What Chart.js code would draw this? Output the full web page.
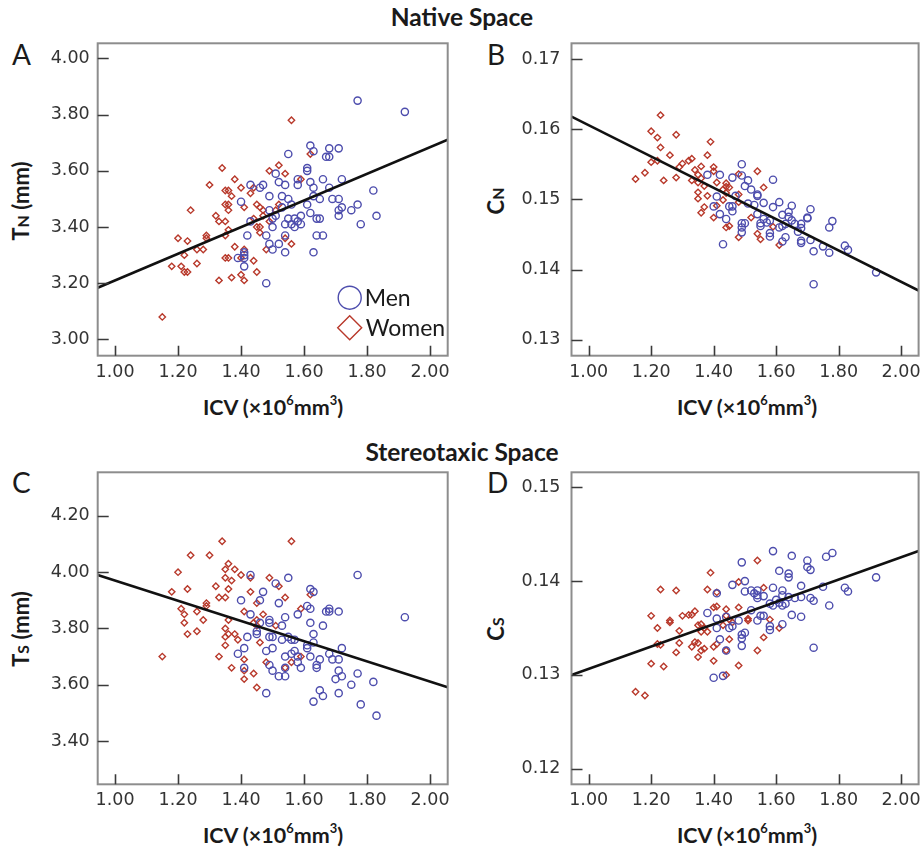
<!DOCTYPE html>
<html>
<head>
<meta charset="utf-8">
<script src="https://cdn.jsdelivr.net/npm/chart.js@4.4.1/dist/chart.umd.min.js"></script>
<style>
  body { margin: 0; background: #fff; }
  #wrap { position: relative; width: 924px; height: 850px; font-family: Lato, 'Open Sans', sans-serif; color: #1a1a1a; }
  canvas { position: absolute; }
  .sect { position: absolute; left: 0; width: 924px; text-align: center; font-size: 24.5px; font-weight: 700; line-height: 26px; }
  .letter { position: absolute; font-size: 28px; line-height: 28px; }
  .xt { position: absolute; width: 300px; text-align: center; font-size: 21.5px; font-weight: 700; line-height: 24px; }
  .yt { position: absolute; width: 200px; text-align: center; font-size: 22px; font-weight: 700; line-height: 24px; transform: rotate(-90deg); }
  sup { font-size: 0.6em; vertical-align: 0.75em; line-height: 0; }
  .sub { font-size: 0.72em; }
</style>
</head>
<body>
<div id="wrap">
  <div class="sect" style="top:4px">Native Space</div>
  <div class="sect" style="top:439px">Stereotaxic Space</div>

  <div class="letter" style="left:12px;top:40px">A</div>
  <div class="letter" style="left:487px;top:40px">B</div>
  <div class="letter" style="left:12px;top:468px">C</div>
  <div class="letter" style="left:487px;top:468px">D</div>

  <div class="yt" style="left:-78px;top:188px">T<span class="sub">N</span> (mm)</div>
  <div class="yt" style="left:397px;top:188px">C<span class="sub">N</span></div>
  <div class="yt" style="left:-78px;top:616px">T<span class="sub">S</span> (mm)</div>
  <div class="yt" style="left:397px;top:616px">C<span class="sub">S</span></div>

  <div class="xt" style="left:123px;top:395px">ICV (×10<sup>6</sup>mm<sup>3</sup>)</div>
  <div class="xt" style="left:597px;top:395px">ICV (×10<sup>6</sup>mm<sup>3</sup>)</div>
  <div class="xt" style="left:123px;top:823px">ICV (×10<sup>6</sup>mm<sup>3</sup>)</div>
  <div class="xt" style="left:597px;top:823px">ICV (×10<sup>6</sup>mm<sup>3</sup>)</div>

  <canvas id="chartA" width="460" height="370" style="left:0;top:30px"></canvas>
  <canvas id="chartB" width="462" height="370" style="left:462px;top:30px"></canvas>
  <canvas id="chartC" width="460" height="370" style="left:0;top:460px"></canvas>
  <canvas id="chartD" width="462" height="370" style="left:462px;top:460px"></canvas>
</div>

<script>
// ---------------- data ------------------------
const groups = ['Men', 'Women'];
const xTicks = [1.00, 1.20, 1.40, 1.60, 1.80, 2.00];
const yTicksA = [3.00, 3.20, 3.40, 3.60, 3.80, 4.00];
const yTicksB = [0.13, 0.14, 0.15, 0.16, 0.17];
const yTicksC = [3.40, 3.60, 3.80, 4.00, 4.20];
const yTicksD = [0.12, 0.13, 0.14, 0.15];

// A: native thickness
const menA = [
  [1.77,3.85],[1.92,3.81],[1.62,3.69],[1.63,3.67],[1.68,3.68],[1.71,3.68],[1.55,3.66],[1.67,3.65],
  [1.68,3.65],[1.61,3.61],[1.61,3.60],[1.51,3.59],[1.58,3.57],[1.58,3.55],[1.52,3.56],[1.54,3.55],
  [1.62,3.56],[1.66,3.57],[1.72,3.57],[1.43,3.55],[1.47,3.55],[1.46,3.54],[1.63,3.54],[1.68,3.54],
  [1.82,3.53],[1.49,3.51],[1.53,3.51],[1.55,3.50],[1.63,3.51],[1.40,3.49],[1.56,3.48],[1.61,3.48],
  [1.65,3.50],[1.69,3.50],[1.71,3.50],[1.72,3.47],[1.71,3.46],[1.77,3.48],[1.75,3.46],[1.49,3.46],
  [1.53,3.47],[1.51,3.44],[1.50,3.43],[1.43,3.42],[1.55,3.43],[1.57,3.43],[1.59,3.44],[1.58,3.42],
  [1.59,3.41],[1.56,3.41],[1.57,3.40],[1.62,3.45],[1.64,3.43],[1.65,3.43],[1.71,3.44],[1.83,3.44],
  [1.78,3.41],[1.54,3.41],[1.50,3.40],[1.42,3.37],[1.48,3.37],[1.54,3.37],[1.64,3.37],[1.66,3.37],
  [1.49,3.34],[1.52,3.34],[1.50,3.32],[1.54,3.31],[1.63,3.31],[1.41,3.31],[1.41,3.30],[1.39,3.29],
  [1.41,3.29],[1.41,3.26],[1.48,3.20]
];
const womenA = [
  [1.56,3.78],[1.62,3.66],[1.52,3.62],[1.34,3.61],[1.49,3.60],[1.54,3.59],[1.38,3.57],[1.59,3.57],
  [1.30,3.55],[1.40,3.54],[1.44,3.54],[1.35,3.53],[1.36,3.53],[1.37,3.51],[1.43,3.52],[1.35,3.48],
  [1.36,3.48],[1.36,3.46],[1.41,3.47],[1.45,3.48],[1.46,3.47],[1.47,3.46],[1.52,3.48],[1.51,3.46],
  [1.24,3.46],[1.32,3.44],[1.33,3.42],[1.35,3.42],[1.44,3.43],[1.47,3.44],[1.49,3.42],[1.36,3.39],
  [1.35,3.37],[1.45,3.40],[1.46,3.40],[1.46,3.38],[1.29,3.37],[1.29,3.36],[1.20,3.36],[1.23,3.35],
  [1.54,3.36],[1.56,3.34],[1.26,3.32],[1.28,3.32],[1.38,3.33],[1.48,3.32],[1.22,3.30],[1.35,3.29],
  [1.36,3.29],[1.41,3.32],[1.40,3.29],[1.44,3.28],[1.18,3.26],[1.21,3.26],[1.26,3.27],[1.22,3.24],
  [1.23,3.24],[1.45,3.24],[1.37,3.22],[1.40,3.23],[1.41,3.21],[1.33,3.21],[1.15,3.08]
];
const fitA = [[0.945,3.184],[2.056,3.711]];

// B: native curvature
const menB = [
  [1.49,0.1550],[1.38,0.1535],[1.42,0.1535],[1.46,0.1531],[1.49,0.1534],[1.51,0.1527],[1.59,0.1528],[1.50,0.1519],
  [1.52,0.1514],[1.54,0.1507],[1.54,0.1505],[1.41,0.1504],[1.47,0.1505],[1.40,0.1490],[1.45,0.1490],[1.42,0.1479],
  [1.46,0.1483],[1.46,0.1490],[1.44,0.1472],[1.51,0.1494],[1.53,0.1492],[1.56,0.1495],[1.59,0.1489],[1.61,0.1496],
  [1.65,0.1491],[1.64,0.1482],[1.62,0.1478],[1.64,0.1475],[1.54,0.1479],[1.56,0.1472],[1.57,0.1467],[1.55,0.1466],
  [1.55,0.1462],[1.58,0.1470],[1.49,0.1466],[1.50,0.1466],[1.49,0.1460],[1.49,0.1453],[1.58,0.1452],[1.58,0.1447],
  [1.61,0.1460],[1.62,0.1462],[1.63,0.1465],[1.65,0.1470],[1.66,0.1465],[1.68,0.1465],[1.68,0.1459],[1.67,0.1454],
  [1.70,0.1474],[1.70,0.1473],[1.71,0.1486],[1.62,0.1440],[1.63,0.1446],[1.68,0.1441],[1.68,0.1438],[1.71,0.1442],
  [1.72,0.1426],[1.75,0.1433],[1.77,0.1460],[1.78,0.1469],[1.77,0.1424],[1.82,0.1434],[1.83,0.1428],[1.92,0.1396],
  [1.72,0.1379],[1.43,0.1436]
];
const womenB = [
  [1.23,0.1620],[1.20,0.1597],[1.22,0.1588],[1.28,0.1592],[1.23,0.1574],[1.39,0.1582],[1.26,0.1563],[1.38,0.1563],
  [1.20,0.1553],[1.22,0.1555],[1.33,0.1558],[1.32,0.1555],[1.30,0.1551],[1.29,0.1546],[1.36,0.1547],[1.40,0.1546],
  [1.40,0.1540],[1.18,0.1538],[1.28,0.1531],[1.15,0.1529],[1.24,0.1527],[1.34,0.1542],[1.35,0.1535],[1.36,0.1530],
  [1.33,0.1527],[1.35,0.1524],[1.37,0.1519],[1.48,0.1536],[1.54,0.1540],[1.41,0.1524],[1.44,0.1523],[1.44,0.1518],
  [1.43,0.1514],[1.45,0.1517],[1.56,0.1517],[1.35,0.1510],[1.38,0.1505],[1.35,0.1501],[1.44,0.1509],[1.48,0.1507],
  [1.43,0.1499],[1.37,0.1489],[1.36,0.1481],[1.41,0.1491],[1.40,0.1474],[1.48,0.1496],[1.45,0.1462],[1.44,0.1460],
  [1.52,0.1474],[1.59,0.1461],[1.48,0.1446],[1.54,0.1451],[1.55,0.1443],[1.61,0.1435]
];
const fitB = [[0.945,0.1618],[2.056,0.1370]];

// C: stereotaxic thickness
const menC = [
  [1.77,3.99],[1.92,3.84],[1.43,3.99],[1.55,3.98],[1.51,3.96],[1.62,3.94],[1.63,3.93],[1.47,3.93],
  [1.46,3.90],[1.40,3.90],[1.52,3.89],[1.61,3.88],[1.62,3.87],[1.68,3.87],[1.67,3.86],[1.68,3.86],
  [1.71,3.86],[1.43,3.85],[1.54,3.84],[1.58,3.85],[1.49,3.83],[1.49,3.82],[1.46,3.82],[1.62,3.82],
  [1.53,3.81],[1.66,3.81],[1.45,3.79],[1.45,3.78],[1.63,3.78],[1.49,3.77],[1.50,3.77],[1.42,3.77],
  [1.55,3.77],[1.53,3.76],[1.56,3.76],[1.57,3.76],[1.63,3.75],[1.61,3.74],[1.41,3.73],[1.50,3.73],
  [1.48,3.72],[1.61,3.73],[1.57,3.72],[1.72,3.73],[1.39,3.71],[1.54,3.70],[1.56,3.71],[1.58,3.70],
  [1.62,3.70],[1.68,3.71],[1.65,3.69],[1.69,3.69],[1.71,3.69],[1.58,3.68],[1.59,3.66],[1.64,3.67],
  [1.64,3.66],[1.41,3.66],[1.49,3.67],[1.50,3.65],[1.54,3.66],[1.54,3.63],[1.52,3.63],[1.71,3.65],
  [1.72,3.63],[1.70,3.62],[1.77,3.64],[1.75,3.60],[1.82,3.61],[1.65,3.58],[1.66,3.56],[1.71,3.57],
  [1.48,3.57],[1.63,3.54],[1.78,3.53],[1.83,3.49]
];
const womenC = [
  [1.34,4.11],[1.56,4.11],[1.24,4.06],[1.30,4.06],[1.20,4.00],[1.36,4.03],[1.35,4.01],[1.38,4.01],
  [1.40,3.99],[1.43,3.98],[1.35,3.98],[1.49,3.98],[1.37,3.97],[1.32,3.95],[1.52,3.95],[1.36,3.94],
  [1.23,3.94],[1.43,3.93],[1.18,3.93],[1.33,3.91],[1.35,3.91],[1.54,3.91],[1.62,3.92],[1.45,3.89],
  [1.29,3.89],[1.29,3.88],[1.21,3.87],[1.59,3.87],[1.22,3.85],[1.26,3.86],[1.41,3.86],[1.47,3.85],
  [1.28,3.83],[1.36,3.83],[1.22,3.82],[1.45,3.83],[1.44,3.82],[1.45,3.81],[1.51,3.81],[1.35,3.80],
  [1.26,3.79],[1.23,3.78],[1.36,3.78],[1.38,3.78],[1.35,3.77],[1.39,3.76],[1.46,3.75],[1.35,3.74],
  [1.33,3.70],[1.15,3.70],[1.41,3.69],[1.48,3.68],[1.56,3.68],[1.59,3.70],[1.54,3.66],[1.37,3.66],
  [1.41,3.65],[1.44,3.64],[1.41,3.62],[1.45,3.59]
];
const fitC = [[0.945,3.990],[2.056,3.591]];

// D: stereotaxic curvature
const menD = [
  [1.59,0.1432],[1.49,0.1420],[1.65,0.1427],[1.78,0.1430],[1.76,0.1426],[1.70,0.1422],[1.70,0.1415],[1.71,0.1412],
  [1.61,0.1411],[1.64,0.1408],[1.64,0.1404],[1.92,0.1404],[1.50,0.1400],[1.46,0.1396],[1.59,0.1393],[1.68,0.1395],
  [1.75,0.1394],[1.82,0.1393],[1.83,0.1389],[1.41,0.1387],[1.50,0.1389],[1.52,0.1390],[1.53,0.1387],[1.54,0.1390],
  [1.54,0.1385],[1.54,0.1382],[1.56,0.1384],[1.62,0.1390],[1.62,0.1385],[1.64,0.1383],[1.66,0.1382],[1.68,0.1383],
  [1.71,0.1382],[1.72,0.1379],[1.60,0.1380],[1.61,0.1377],[1.63,0.1376],[1.62,0.1374],[1.58,0.1376],[1.59,0.1374],
  [1.77,0.1374],[1.52,0.1369],[1.38,0.1366],[1.41,0.1360],[1.44,0.1362],[1.45,0.1350],[1.46,0.1352],[1.48,0.1358],
  [1.54,0.1358],[1.55,0.1363],[1.56,0.1363],[1.58,0.1352],[1.58,0.1348],[1.62,0.1354],[1.65,0.1364],[1.68,0.1362],
  [1.41,0.1350],[1.50,0.1345],[1.49,0.1343],[1.49,0.1339],[1.42,0.1338],[1.49,0.1331],[1.44,0.1326],[1.72,0.1329],
  [1.43,0.1299],[1.40,0.1297]
];
const womenD = [
  [1.54,0.1422],[1.39,0.1409],[1.23,0.1391],[1.28,0.1390],[1.38,0.1391],[1.48,0.1399],[1.56,0.1393],[1.41,0.1388],
  [1.20,0.1363],[1.22,0.1350],[1.26,0.1358],[1.26,0.1356],[1.30,0.1363],[1.32,0.1364],[1.33,0.1364],[1.34,0.1368],
  [1.40,0.1372],[1.41,0.1373],[1.44,0.1370],[1.48,0.1372],[1.29,0.1347],[1.35,0.1353],[1.36,0.1354],[1.37,0.1350],
  [1.36,0.1346],[1.38,0.1346],[1.44,0.1363],[1.45,0.1359],[1.43,0.1353],[1.46,0.1356],[1.51,0.1360],[1.51,0.1358],
  [1.58,0.1359],[1.61,0.1350],[1.22,0.1333],[1.23,0.1332],[1.29,0.1334],[1.33,0.1330],[1.34,0.1335],[1.35,0.1334],
  [1.40,0.1330],[1.41,0.1333],[1.45,0.1338],[1.28,0.1324],[1.36,0.1326],[1.37,0.1328],[1.35,0.1319],[1.44,0.1326],
  [1.56,0.1340],[1.54,0.1326],[1.20,0.1312],[1.24,0.1309],[1.40,0.1315],[1.48,0.1310],[1.44,0.1300],[1.15,0.1282],
  [1.18,0.1278]
];
const fitD = [[0.945,0.1300],[2.056,0.1432]];

// ---------------- style ------------------------
const MEN_COLOR = '#4d4dad';
const WOMEN_COLOR = '#b8392b';

Chart.defaults.font.family = "'DejaVu Sans', sans-serif";
Chart.defaults.color = '#333';

// box round the plot + inward tick marks
const framePlugin = {
  id: 'frame',
  afterDatasetsDraw(chart) {
    const { ctx, chartArea: a, scales: { x, y } } = chart;
    ctx.save();
    ctx.strokeStyle = '#8d8d8d';
    ctx.lineWidth = 2;
    ctx.strokeRect(a.left, a.top, a.right - a.left, a.bottom - a.top);
    ctx.strokeStyle = '#3a3a3a';
    ctx.lineWidth = 1.6;
    ctx.beginPath();
    x.ticks.forEach(t => {
      const px = Math.round(x.getPixelForValue(t.value)) + 0.5;
      ctx.moveTo(px, a.bottom);
      ctx.lineTo(px, a.bottom - 10);
    });
    y.ticks.forEach(t => {
      const py = Math.round(y.getPixelForValue(t.value)) + 0.5;
      ctx.moveTo(a.left, py);
      ctx.lineTo(a.left + 11, py);
    });
    ctx.stroke();
    ctx.restore();
  }
};

// legend inside panel A
const legendPlugin = {
  id: 'inlineLegend',
  afterDraw(chart) {
    if (!chart.options.plugins.inlineLegend.show) return;
    const { ctx, chartArea: a } = chart;
    const cx = a.right - 98;
    const rows = [a.bottom - 58, a.bottom - 28];
    ctx.save();
    ctx.lineWidth = 1.4;
    ctx.strokeStyle = MEN_COLOR;
    ctx.beginPath();
    ctx.arc(cx, rows[0], 11.5, 0, Math.PI * 2);
    ctx.stroke();
    ctx.strokeStyle = WOMEN_COLOR;
    ctx.beginPath();
    ctx.moveTo(cx, rows[1] - 12);
    ctx.lineTo(cx + 12, rows[1]);
    ctx.lineTo(cx, rows[1] + 12);
    ctx.lineTo(cx - 12, rows[1]);
    ctx.closePath();
    ctx.stroke();
    ctx.fillStyle = '#1a1a1a';
    ctx.font = "23px Lato, 'Open Sans', sans-serif";
    ctx.textBaseline = 'middle';
    ctx.fillText(groups[0], cx + 15, rows[0] + 1);
    ctx.fillText(groups[1], cx + 16, rows[1] + 1);
    ctx.restore();
  }
};

function makePanel(id, men, women, fit, yMin, yMax, yTicks, yWidth, padTop, padRight, xHeight, labelPad, legend) {
  new Chart(document.getElementById(id), {
    type: 'scatter',
    data: {
      datasets: [{
        label: 'fit',
        type: 'line',
        data: fit,
        borderColor: '#111',
        borderWidth: 2.6,
        pointRadius: 0,
        fill: false
      }, {
        label: groups[0],
        data: men,
        pointStyle: 'circle',
        pointRadius: 3.6,
        borderWidth: 1.4,
        borderColor: MEN_COLOR,
        backgroundColor: 'rgba(0,0,0,0)'
      }, {
        label: groups[1],
        data: women,
        pointStyle: 'rectRot',
        pointRadius: 3.2,
        borderWidth: 1.4,
        borderColor: WOMEN_COLOR,
        backgroundColor: 'rgba(0,0,0,0)'
      }]
    },
    options: {
      responsive: false,
      animation: false,
      layout: { padding: { top: padTop, right: padRight, left: 0, bottom: 0 } },
      scales: {
        x: {
          type: 'linear',
          min: 0.945,
          max: 2.056,
          grid: { display: false, drawTicks: false },
          border: { display: false },
          ticks: {
            font: { size: 17.5 },
            padding: 6,
            autoSkip: false,
            maxRotation: 0,
            callback: v => v.toFixed(2)
          },
          afterBuildTicks: s => { s.ticks = xTicks.map(v => ({ value: v })); },
          afterFit: s => { s.height = xHeight; s.paddingLeft = 0; s.paddingRight = 0; }
        },
        y: {
          type: 'linear',
          min: yMin,
          max: yMax,
          grid: { display: false, drawTicks: false },
          border: { display: false },
          ticks: {
            font: { size: 17.5 },
            padding: labelPad,
            callback: v => v.toFixed(2)
          },
          afterBuildTicks: s => { s.ticks = yTicks.map(v => ({ value: v })); },
          afterFit: s => { s.width = yWidth; s.paddingTop = 0; s.paddingBottom = 0; }
        }
      },
      plugins: {
        legend: { display: false },
        tooltip: { enabled: false },
        inlineLegend: { show: legend }
      }
    },
    plugins: [framePlugin, legendPlugin]
  });
}

makePanel('chartA', menA, womenA, fitA, 2.942, 4.054, yTicksA, 97.7, 13.3, 12.3, 44.3, 8, true);
makePanel('chartB', menB, womenB, fitB, 0.12772, 0.17224, yTicksB, 109.5, 13.3, 2.5, 44.3, 11, false);
makePanel('chartC', menC, womenC, fitC, 3.246, 4.355, yTicksC, 97.7, 12.3, 12.3, 45.7, 8, false);
makePanel('chartD', menD, womenD, fitD, 0.11834, 0.1516, yTicksD, 109.5, 12.3, 2.5, 45.7, 11, false);
</script>
</body>
</html>
